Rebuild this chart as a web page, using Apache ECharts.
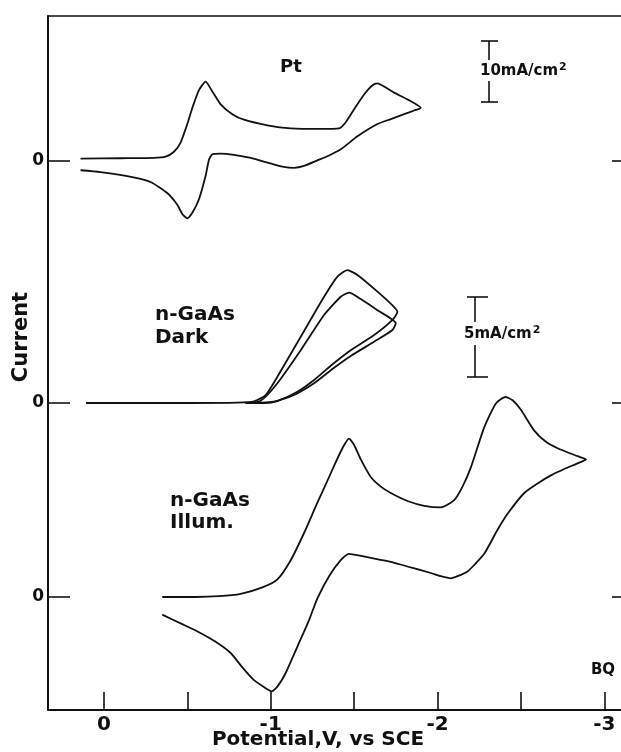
<!DOCTYPE html>
<html>
<head>
<meta charset="utf-8">
<script src="https://cdn.jsdelivr.net/npm/echarts@6/dist/echarts.min.js"></script>
<style>
  html, body { margin: 0; padding: 0; background: #fff; }
  #cv { width: 621px; height: 752px; }
</style>
</head>
<body>
<div id="cv"></div>
<script>
// cyclic voltammograms, BQ : Pt / n-GaAs dark / n-GaAs illuminated

// potential (V vs SCE) and current (mA/cm2), in scan order
var ptPotential = [0.14, -0.10, -0.30, -0.37, -0.42, -0.46, -0.50, -0.53, -0.57, -0.61, -0.65, -0.70, -0.77, -0.84, -0.98, -1.12, -1.30, -1.41, -1.45, -1.50, -1.56, -1.61, -1.64, -1.68, -1.74, -1.82, -1.90,
  -1.86, -1.80, -1.72, -1.64, -1.52, -1.42, -1.35, -1.28, -1.20, -1.14, -1.07, -1.00, -0.88, -0.78, -0.70, -0.65, -0.63, -0.61, -0.57, -0.53, -0.50, -0.47, -0.44, -0.38, -0.28, -0.17, 0.02, 0.14]
var ptCurrent = [0.4, 0.45, 0.5, 0.7, 1.5, 3.0, 6.0, 8.6, 11.5, 12.9, 11.3, 9.2, 7.6, 6.7, 5.8, 5.3, 5.2, 5.3, 6.3, 8.4, 10.8, 12.3, 12.6, 12.1, 11.1, 10.0, 8.6,
  8.2, 7.6, 6.8, 6.0, 4.0, 1.9, 0.9, 0.1, -0.8, -1.1, -0.9, -0.4, 0.5, 1.0, 1.2, 1.1, 0.2, -2.4, -6.2, -8.4, -9.3, -8.6, -7.1, -5.2, -3.4, -2.6, -1.8, -1.5]

var darkPotential1 = [0.107, -0.5, -0.80, -0.90, -0.97, -1.04, -1.18, -1.32, -1.40, -1.46, -1.52, -1.64, -1.73, -1.76, -1.73, -1.62, -1.48, -1.38, -1.26, -1.16, -1.04, -0.96, -0.85]
var darkCurrent1 = [0, 0, 0.02, 0.1, 0.5, 1.64, 4.14, 6.64, 7.9, 8.3, 8.0, 6.96, 6.1, 5.7, 5.2, 4.25, 3.3, 2.5, 1.44, 0.7, 0.12, 0, 0]
var darkPotential2 = [-0.85, -0.92, -0.97, -1.04, -1.18, -1.32, -1.42, -1.47, -1.54, -1.64, -1.75, -1.73, -1.62, -1.48, -1.38, -1.26, -1.14, -1.02, -0.90]
var darkCurrent2 = [0, 0.05, 0.4, 1.23, 3.3, 5.5, 6.64, 6.9, 6.5, 5.8, 4.98, 4.56, 3.83, 2.94, 2.2, 1.23, 0.5, 0.08, 0]

var illumPotential = [-0.35, -0.55, -0.69, -0.82, -0.95, -1.04, -1.12, -1.20, -1.28, -1.32, -1.38, -1.43, -1.469, -1.50, -1.54, -1.60, -1.66, -1.72, -1.82, -1.92, -2.02, -2.10, -2.15, -2.20, -2.28, -2.35, -2.407, -2.45, -2.50, -2.58, -2.65, -2.72, -2.84, -2.89,
  -2.84, -2.76, -2.68, -2.60, -2.52, -2.42, -2.36, -2.28, -2.22, -2.18, -2.12, -2.08, -2.02, -1.96, -1.84, -1.72, -1.60, -1.50, -1.469, -1.42, -1.35, -1.28, -1.23, -1.16, -1.09, -1.04, -1.006, -0.97, -0.90, -0.83, -0.76, -0.67, -0.57, -0.46, -0.35]
var illumCurrent = [0.0, 0.0, 0.05, 0.2, 0.6, 1.1, 2.3, 4.0, 5.9, 6.8, 8.2, 9.3, 9.9, 9.5, 8.6, 7.5, 6.9, 6.5, 6.0, 5.7, 5.6, 6.06, 6.9, 8.1, 10.6, 12.1, 12.5, 12.3, 11.7, 10.4, 9.7, 9.3, 8.8, 8.6,
  8.35, 8.0, 7.6, 7.1, 6.5, 5.2, 4.2, 2.7, 2.0, 1.6, 1.3, 1.17, 1.3, 1.5, 1.85, 2.2, 2.45, 2.65, 2.7, 2.3, 1.3, -0.08, -1.44, -3.1, -4.75, -5.6, -5.9, -5.7, -5.2, -4.4, -3.5, -2.8, -2.2, -1.65, -1.1]

var xTicks = [0, -0.5, -1, -1.5, -2, -2.5, -3]
var xLabels = [0, -1, -2, -3]

// each trace is stacked on its own zero line (axis units = px above the bottom axis)
var ptZero = 549, darkZero = 307, illumZero = 113
var ptGain = 6.16, gaasGain = 16   // px per mA/cm2 (see scale bars)
var zeros = [illumZero, darkZero, ptZero]

function trace (pot, cur, zero, gain) {
  var out = []
  for (var i = 0; i < pot.length; i++) {
    out.push([pot[i], zero + cur[i] * gain])
  }
  return out
}

var FONT = 'DejaVu Sans'
var chart = echarts.init(document.getElementById('cv'), null, {renderer: 'canvas'})

function curve (data) {
  return {
    type: 'line', data: data, showSymbol: false, smooth: 0.2,
    lineStyle: {color: '#111', width: 1.8}, silent: true
  }
}

function txt (x, y, s, size, align) {
  return {
    type: 'text', x: x, y: y, silent: true,
    style: {text: s, fill: '#111', font: 'bold ' + size + 'px "' + FONT + '"', align: align || 'left', verticalAlign: 'middle'}
  }
}
function seg (x1, y1, x2, y2) {
  return {type: 'line', silent: true, shape: {x1: x1, y1: y1, x2: x2, y2: y2}, style: {stroke: '#111', lineWidth: 1.6}}
}

var option = {
  animation: false,
  backgroundColor: '#fff',
  grid: {left: 48, right: 0, top: 16, bottom: 42},
  xAxis: [{
    type: 'value', min: -3.10, max: 0.335, inverse: true,
    axisLine: {onZero: false, lineStyle: {color: '#111', width: 2}},
    axisTick: {inside: true, length: 18, customValues: xTicks, lineStyle: {color: '#111', width: 1.6}},
    axisLabel: {customValues: xLabels, margin: 5, color: '#111', fontFamily: FONT, fontWeight: 'bold', fontSize: 20,
      formatter: function (v) { return v === 0 ? '0' : '-' + Math.abs(v) }},
    splitLine: {show: false}
  }, {
    type: 'value', position: 'top', min: -3.10, max: 0.335, inverse: true,
    axisLine: {onZero: false, lineStyle: {color: '#111', width: 1.6}},
    axisTick: {show: false}, axisLabel: {show: false}, splitLine: {show: false}
  }],
  yAxis: [{
    type: 'value', min: 0, max: 694,
    axisLine: {show: true, onZero: false, lineStyle: {color: '#111', width: 2}},
    axisTick: {show: true, inside: true, length: 22, customValues: zeros, lineStyle: {color: '#111', width: 1.6}},
    axisLabel: {customValues: zeros, margin: 4, color: '#111', fontFamily: FONT, fontWeight: 'bold', fontSize: 17,
      formatter: function () { return '0' }},
    splitLine: {show: false}
  }, {
    type: 'value', position: 'right', min: 0, max: 694,
    axisLine: {show: false, onZero: false},
    axisTick: {show: true, inside: true, length: 9, customValues: zeros, lineStyle: {color: '#111', width: 1.6}},
    axisLabel: {show: false}, splitLine: {show: false}
  }],
  series: [
    curve(trace(ptPotential, ptCurrent, ptZero, ptGain)),
    curve(trace(darkPotential1, darkCurrent1, darkZero, gaasGain)),
    curve(trace(darkPotential2, darkCurrent2, darkZero, gaasGain)),
    curve(trace(illumPotential, illumCurrent, illumZero, gaasGain))
  ],
  graphic: [
    txt(291, 67, 'Pt', 18, 'center'),
    txt(155, 315, 'n-GaAs', 20),
    txt(155, 338, 'Dark', 20),
    txt(170, 501, 'n-GaAs', 20),
    txt(170, 523, 'Illum.', 20),
    txt(603, 670, 'BQ', 15, 'center'),
    {
      type: 'text', x: 318, y: 740, silent: true,
      style: {text: 'Potential,V, vs SCE', fill: '#111', font: 'bold 20px "' + FONT + '"', align: 'center', verticalAlign: 'middle'}
    },
    {
      type: 'text', x: 22, y: 337, rotation: Math.PI / 2, silent: true,
      style: {text: 'Current', fill: '#111', font: 'bold 21px "' + FONT + '"', align: 'center', verticalAlign: 'middle'}
    },
    // 10 mA/cm2 bar
    seg(489, 41, 489, 60), seg(489, 81, 489, 102), seg(481, 41, 498, 41), seg(481, 102, 498, 102),
    {
      type: 'text', x: 480, y: 71, silent: true,
      style: {text: '10mA/cm{s|2}', fill: '#111', font: 'bold 15px "' + FONT + '"', verticalAlign: 'middle',
        rich: {s: {fontSize: 11, fontWeight: 'bold', fontFamily: FONT, verticalAlign: 'top', padding: [0, 0, 8, 1]}}}
    },
    // 5 mA/cm2 bar
    seg(475, 297, 475, 322), seg(475, 345, 475, 377), seg(467, 297, 488, 297), seg(467, 377, 488, 377),
    {
      type: 'text', x: 464, y: 334, silent: true,
      style: {text: '5mA/cm{s|2}', fill: '#111', font: 'bold 15px "' + FONT + '"', verticalAlign: 'middle',
        rich: {s: {fontSize: 11, fontWeight: 'bold', fontFamily: FONT, verticalAlign: 'top', padding: [0, 0, 8, 1]}}}
    }
  ]
}

chart.setOption(option)
</script>
</body>
</html>
